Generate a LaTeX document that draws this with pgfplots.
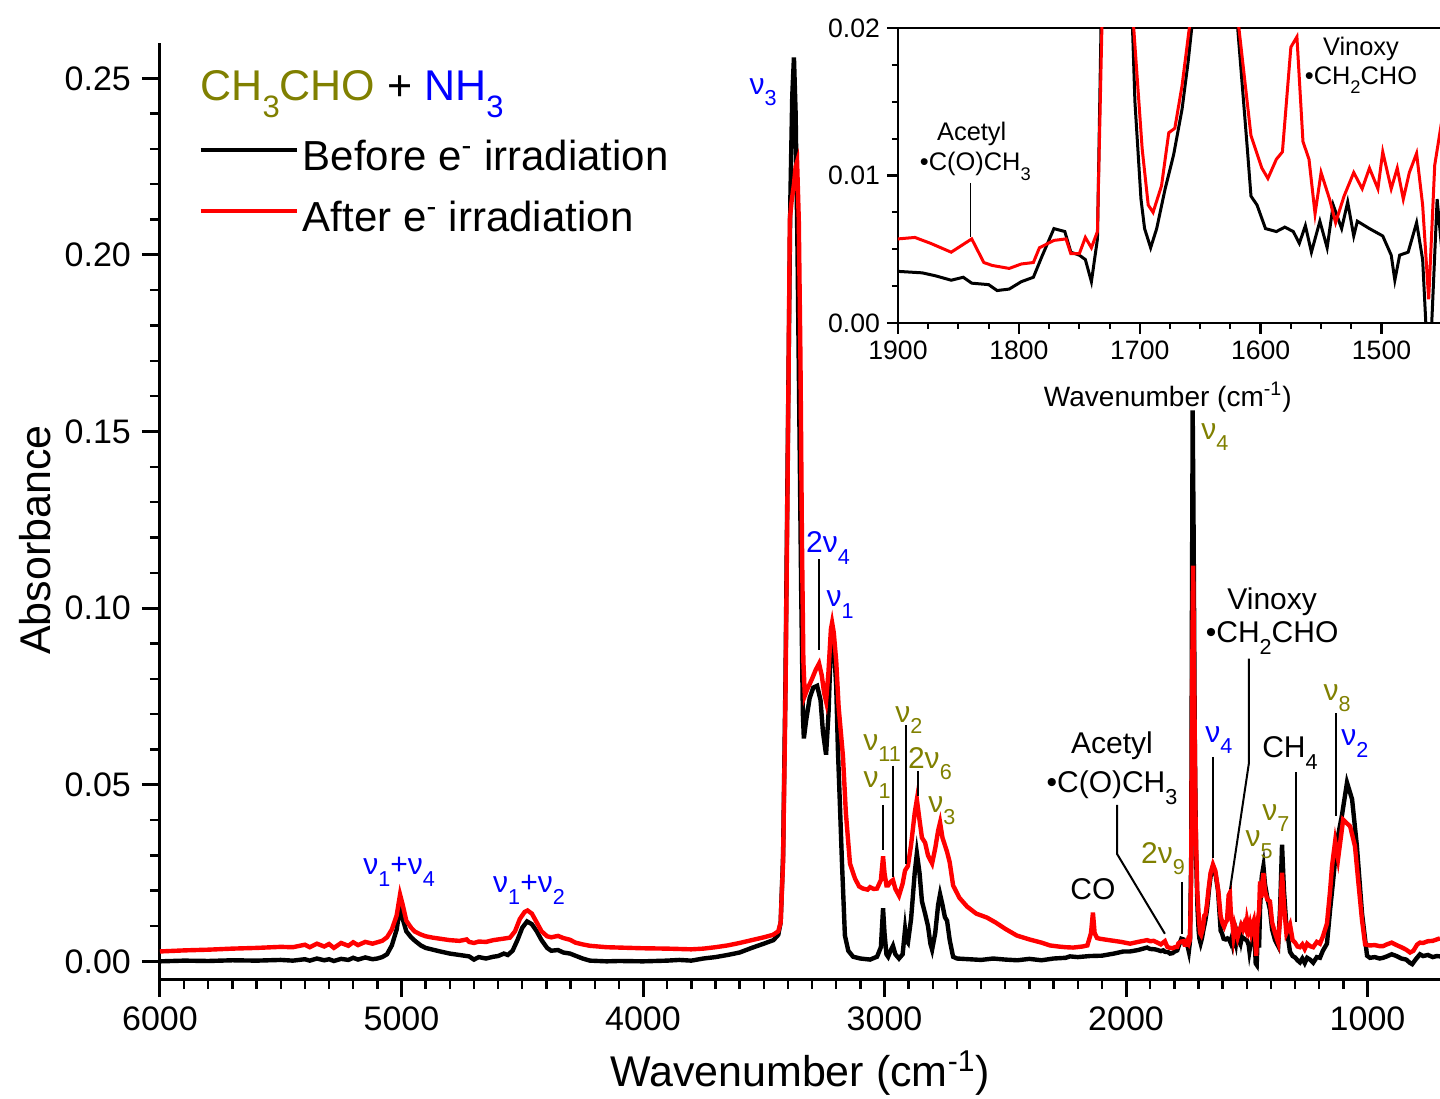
\documentclass[border=0pt]{standalone}
\usepackage{pgfplots}
\usepackage{pgfplotstable}
\usepackage{graphicx}
\pgfplotsset{compat=1.18}
\usepackage{fontspec}
\setmainfont{Liberation Sans}
\definecolor{myolive}{RGB}{128,128,0}
\definecolor{myblue}{RGB}{0,0,255}
\definecolor{myred}{RGB}{255,0,0}
\newcommand{\fs}[1]{\fontsize{#1}{#1}\selectfont}
\newcommand{\sub}[1]{\raisebox{-0.38em}{\scalebox{0.72}{#1}}}

\pgfplotstableread{
x y
6000 0.0000
5900 0.0002
5800 0.0001
5700 0.0003
5600 0.0002
5500 0.0004
5450 0.0002
5400 0.0006
5380 0.0002
5350 0.0008
5320 0.0003
5300 0.0006
5280 0.0001
5250 0.0007
5220 0.0004
5200 0.0010
5180 0.0005
5150 0.0011
5120 0.0006
5100 0.0008
5080 0.0012
5060 0.0020
5040 0.0045
5020 0.0090
5006 0.0152
4995 0.0120
4980 0.0085
4960 0.0068
4944 0.0058
4920 0.0045
4900 0.0038
4870 0.0033
4840 0.0028
4800 0.0022
4760 0.0018
4720 0.0014
4700 0.0005
4680 0.0012
4650 0.0008
4620 0.0013
4600 0.0015
4576 0.0022
4560 0.0018
4540 0.0030
4520 0.0060
4500 0.0095
4480 0.0113
4460 0.0105
4440 0.0085
4420 0.0060
4397 0.0038
4380 0.0030
4352 0.0032
4330 0.0025
4302 0.0022
4280 0.0016
4250 0.0008
4220 0.0002
4150 0.0000
4100 0.0001
4000 0.0000
3900 0.0002
3850 0.0004
3800 0.0002
3750 0.0008
3700 0.0012
3650 0.0018
3600 0.0025
3550 0.0038
3500 0.0050
3460 0.0060
3440 0.0075
3430 0.0110
3420 0.0300
3410 0.0800
3400 0.1500
3390 0.2150
3382 0.2450
3375 0.2559
3368 0.2400
3360 0.2000
3352 0.1500
3345 0.1050
3338 0.0700
3334 0.0631
3325 0.0680
3310 0.0745
3295 0.0775
3279 0.0780
3265 0.0740
3255 0.0650
3242 0.0585
3232 0.0700
3222 0.0900
3217 0.0930
3210 0.0900
3200 0.0780
3193 0.0600
3185 0.0450
3176 0.0277
3164 0.0073
3150 0.0030
3130 0.0013
3100 0.0008
3060 0.0005
3031 0.0013
3015 0.0040
3006 0.0150
3000 0.0080
2992 0.0020
2985 0.0013
2975 0.0030
2965 0.0044
2955 0.0020
2940 0.0008
2925 0.0020
2915 0.0090
2910 0.0060
2903 0.0053
2890 0.0120
2875 0.0250
2866 0.0306
2855 0.0250
2845 0.0170
2832 0.0135
2820 0.0100
2810 0.0050
2803 0.0033
2790 0.0080
2778 0.0160
2770 0.0190
2760 0.0160
2750 0.0125
2741 0.0115
2730 0.0060
2716 0.0013
2700 0.0008
2650 0.0006
2600 0.0004
2550 0.0008
2500 0.0005
2450 0.0003
2400 0.0007
2350 0.0003
2300 0.0008
2250 0.0010
2232 0.0014
2200 0.0012
2150 0.0015
2100 0.0016
2050 0.0022
2010 0.0028
1983 0.0028
1950 0.0032
1913 0.0039
1900 0.0035
1880 0.0034
1869 0.0032
1856 0.0029
1846 0.0031
1839 0.0027
1825 0.0026
1818 0.0022
1808 0.0023
1798 0.0028
1788 0.0031
1781 0.0045
1771 0.0064
1762 0.0062
1757 0.0048
1750 0.0046
1745 0.0043
1740 0.0028
1735 0.0057
1730 0.0300
1727 0.1000
1724 0.1560
1720 0.1200
1715 0.0600
1710 0.0300
1704 0.0150
1699 0.0084
1696 0.0064
1691 0.0051
1686 0.0064
1679 0.0091
1672 0.0114
1665 0.0145
1660 0.0177
1657 0.0200
1650 0.0240
1640 0.0268
1630 0.0250
1619 0.0200
1611 0.0118
1608 0.0086
1603 0.0080
1596 0.0064
1587 0.0062
1580 0.0065
1573 0.0062
1568 0.0054
1563 0.0066
1558 0.0048
1551 0.0069
1545 0.0051
1540 0.0080
1533 0.0064
1528 0.0082
1523 0.0059
1520 0.0069
1510 0.0064
1499 0.0059
1492 0.0046
1489 0.0029
1485 0.0046
1478 0.0048
1471 0.0068
1466 0.0043
1463 -0.0006
1459 -0.0010
1454 0.0084
1449 0.0039
1445 0.0150
1438 0.0240
1431 0.0269
1425 0.0220
1415 0.0180
1404 0.0146
1395 0.0090
1383 0.0060
1370 0.0043
1362 0.0150
1354 0.0330
1346 0.0200
1336 0.0100
1321 0.0027
1310 0.0015
1300 0.0011
1290 0.0003
1280 -0.0003
1270 0.0008
1260 -0.0005
1250 0.0010
1238 0.0005
1225 -0.0004
1210 0.0012
1197 0.0010
1185 0.0030
1168 0.0050
1155 0.0146
1143 0.0225
1127 0.0338
1106 0.0413
1085 0.0506
1064 0.0459
1044 0.0326
1023 0.0137
1002 0.0016
990 0.0010
970 0.0012
950 0.0008
936 0.0010
920 0.0014
900 0.0020
880 0.0015
860 0.0008
840 0.0005
825 -0.0004
815 -0.0008
800 0.0006
783 0.0020
770 0.0015
750 0.0018
730 0.0012
713 0.0015
700 0.0014
}\blackdata

\pgfplotstableread{
x y
6000 0.0028
5900 0.0031
5800 0.0033
5700 0.0036
5600 0.0038
5500 0.0041
5450 0.0040
5400 0.0047
5380 0.0040
5350 0.0050
5320 0.0042
5300 0.0049
5280 0.0038
5250 0.0052
5220 0.0044
5200 0.0054
5180 0.0046
5150 0.0055
5120 0.0050
5100 0.0054
5080 0.0058
5060 0.0068
5040 0.0090
5020 0.0130
5006 0.0189
4995 0.0160
4980 0.0115
4960 0.0095
4944 0.0084
4920 0.0076
4900 0.0071
4870 0.0067
4840 0.0064
4800 0.0060
4760 0.0058
4730 0.0062
4720 0.0055
4700 0.0052
4680 0.0056
4650 0.0055
4620 0.0060
4600 0.0062
4570 0.0065
4551 0.0067
4530 0.0085
4510 0.0120
4490 0.0140
4478 0.0144
4460 0.0135
4440 0.0110
4420 0.0085
4397 0.0071
4380 0.0068
4352 0.0072
4330 0.0066
4302 0.0061
4280 0.0053
4250 0.0048
4220 0.0044
4150 0.0040
4100 0.0039
4000 0.0037
3900 0.0036
3850 0.0035
3800 0.0034
3750 0.0036
3700 0.0040
3650 0.0045
3600 0.0052
3550 0.0060
3500 0.0068
3462 0.0075
3440 0.0085
3430 0.0110
3420 0.0280
3410 0.0750
3400 0.1450
3392 0.2100
3385 0.2150
3375 0.2200
3368 0.2250
3362 0.2264
3355 0.2100
3348 0.1700
3342 0.1200
3336 0.0850
3330 0.0752
3320 0.0770
3300 0.0800
3285 0.0825
3271 0.0843
3260 0.0810
3250 0.0760
3242 0.0736
3232 0.0820
3222 0.0940
3217 0.0959
3210 0.0930
3200 0.0850
3190 0.0720
3172 0.0580
3160 0.0420
3143 0.0277
3122 0.0234
3105 0.0212
3089 0.0206
3070 0.0203
3060 0.0210
3045 0.0205
3031 0.0206
3015 0.0230
3006 0.0297
3000 0.0250
2992 0.0215
2985 0.0215
2975 0.0225
2965 0.0230
2955 0.0205
2940 0.0186
2925 0.0220
2915 0.0257
2903 0.0270
2890 0.0330
2875 0.0420
2866 0.0458
2855 0.0400
2845 0.0350
2832 0.0336
2820 0.0300
2803 0.0277
2790 0.0320
2778 0.0370
2770 0.0393
2760 0.0350
2741 0.0310
2730 0.0280
2716 0.0215
2690 0.0180
2658 0.0155
2620 0.0135
2576 0.0124
2540 0.0110
2500 0.0092
2452 0.0073
2400 0.0062
2350 0.0053
2315 0.0045
2280 0.0042
2250 0.0040
2219 0.0039
2180 0.0042
2160 0.0045
2145 0.0080
2137 0.0138
2130 0.0080
2120 0.0066
2108 0.0064
2080 0.0061
2050 0.0058
2020 0.0055
1983 0.0050
1950 0.0055
1913 0.0060
1900 0.0057
1886 0.0058
1873 0.0054
1856 0.0048
1839 0.0057
1829 0.0041
1822 0.0039
1808 0.0037
1798 0.0040
1788 0.0041
1783 0.0051
1771 0.0056
1761 0.0057
1757 0.0047
1750 0.0047
1745 0.0058
1740 0.0051
1735 0.0062
1730 0.0250
1726 0.0800
1722 0.1120
1718 0.0800
1712 0.0400
1705 0.0200
1698 0.0118
1693 0.0080
1689 0.0075
1682 0.0093
1676 0.0129
1671 0.0132
1665 0.0161
1659 0.0200
1650 0.0250
1640 0.0274
1630 0.0256
1618 0.0200
1608 0.0127
1599 0.0105
1594 0.0098
1587 0.0111
1582 0.0116
1575 0.0187
1570 0.0194
1565 0.0123
1560 0.0111
1555 0.0074
1550 0.0102
1543 0.0084
1538 0.0068
1531 0.0086
1523 0.0102
1516 0.0091
1510 0.0105
1503 0.0091
1499 0.0116
1492 0.0091
1487 0.0105
1482 0.0084
1477 0.0102
1471 0.0115
1466 0.0080
1461 0.0016
1456 0.0107
1449 0.0143
1445 0.0226
1440 0.0180
1436 0.0220
1431 0.0250
1425 0.0200
1415 0.0175
1404 0.0170
1395 0.0110
1383 0.0080
1370 0.0053
1362 0.0120
1354 0.0251
1346 0.0160
1336 0.0080
1321 0.0104
1310 0.0060
1300 0.0053
1290 0.0042
1280 0.0040
1270 0.0048
1260 0.0035
1250 0.0050
1238 0.0043
1225 0.0040
1210 0.0055
1197 0.0050
1185 0.0070
1168 0.0107
1155 0.0200
1147 0.0270
1134 0.0340
1122 0.0290
1101 0.0401
1072 0.0382
1052 0.0326
1039 0.0231
1023 0.0118
1010 0.0048
990 0.0045
970 0.0046
950 0.0043
936 0.0043
920 0.0048
900 0.0053
880 0.0046
860 0.0040
840 0.0033
824 0.0025
810 0.0030
795 0.0047
783 0.0053
770 0.0052
750 0.0057
730 0.0058
713 0.0062
700 0.0065
}\reddata

\tikzset{ann/.style={font=\fs{15}, inner sep=0pt}, lbl/.style={line width=1pt}}

\begin{document}
\begin{tikzpicture}
\begin{axis}[
  at={(80pt,59.5pt)}, anchor=south west,
  scale only axis, width=640pt, height=468pt,
  x dir=reverse, xmin=700, xmax=6000, ymin=-0.005, ymax=0.26,
  axis x line*=bottom, axis y line*=left,
  axis line style={-, line width=1.5pt},
  xtick={1000,2000,3000,4000,5000,6000}, minor x tick num=9,
  ytick={0,0.05,0.1,0.15,0.2,0.25}, minor y tick num=4,
  tick align=outside, major tick length=9pt, minor tick length=5pt,
  every major tick/.append style={line width=1.5pt, black},
  every minor tick/.append style={line width=1.2pt, black},
  /pgf/number format/assume math mode=true,
  /pgf/number format/1000 sep={},
  tick label style={font=\fs{17}},
  xticklabel style={yshift=-1.5pt},
  yticklabel style={xshift=-2pt, /pgf/number format/fixed, /pgf/number format/fixed zerofill, /pgf/number format/precision=2},
  scaled y ticks=false,
  xlabel={Wavenumber (cm\textsuperscript{-1})},
  ylabel={Absorbance},
  label style={font=\fs{21.5}},
  xlabel style={at={(axis description cs:0.5,-0.1004)}, anchor=center},
  ylabel style={at={(axis description cs:-0.0977,0.469)}, anchor=center},
  legend style={at={(axis description cs:0.0297,0.8456)}, anchor=west, draw=none, fill=none,
    font=\fs{21}, inner sep=0pt, row sep=10pt,
    /tikz/every even column/.append style={column sep=7.5pt}},
  legend cell align=left,
  legend image code/.code={\draw[#1, line width=2.2pt] (-1pt,0.35em) -- (47pt,0.35em);},
]
\addplot[black, line width=2.2pt] table {\blackdata};
\addlegendentry{Before e\textsuperscript{-} irradiation}
\addplot[myred, line width=2.2pt] table {\reddata};
\addlegendentry{After e\textsuperscript{-} irradiation}

\node[anchor=base west, inner sep=0pt, font=\fs{21.5}] at (axis cs:5834,0.2436)
  {\textcolor{myolive}{CH\sub{3}CHO} + \textcolor{myblue}{NH\sub{3}}};

\node[ann, myblue] at (axis cs:3503,0.2461) {ν\sub{3}};
\node[ann, myblue] at (axis cs:3234,0.117) {2ν\sub{4}};
\draw[lbl] (axis cs:3271,0.1139) -- (axis cs:3271,0.0881);
\node[ann, myblue] at (axis cs:3184,0.101) {ν\sub{1}};
\node[ann, myolive] at (axis cs:3031,0.0499) {ν\sub{1}};
\draw[lbl] (axis cs:3006,0.0443) -- (axis cs:3006,0.0315);
\node[ann, myolive] at (axis cs:3010,0.0604) {ν\sub{11}};
\draw[lbl] (axis cs:2965,0.0554) -- (axis cs:2965,0.0239);
\node[ann, myolive] at (axis cs:2899,0.0683) {ν\sub{2}};
\draw[lbl] (axis cs:2911,0.0669) -- (axis cs:2911,0.0276);
\node[ann, myolive] at (axis cs:2812,0.0559) {2ν\sub{6}};
\draw[lbl] (axis cs:2861,0.0539) -- (axis cs:2861,0.0468);
\node[ann, myolive] at (axis cs:2762,0.0426) {ν\sub{3}};
\node[ann] at (axis cs:2058,0.0609) {Acetyl};
\node[ann] at (axis cs:2058,0.0492) {•C(O)CH\sub{3}};
\draw[lbl] (axis cs:2037,0.0443) -- (axis cs:2037,0.0304) -- (axis cs:1839,0.0078);
\node[ann] at (axis cs:2137,0.0205) {CO};
\node[ann, myolive] at (axis cs:1847,0.029) {2ν\sub{9}};
\draw[lbl] (axis cs:1768,0.0225) -- (axis cs:1768,0.0078);
\node[ann, myolive] at (axis cs:1632,0.1484) {ν\sub{4}};
\node[ann] at (axis cs:1395,0.1017) {Vinoxy};
\node[ann] at (axis cs:1395,0.0915) {•CH\sub{2}CHO};
\draw[lbl] (axis cs:1491,0.0857) -- (axis cs:1491,0.0562) -- (axis cs:1569,0.0205);
\node[ann, myblue] at (axis cs:1615,0.0627) {ν\sub{4}};
\draw[lbl] (axis cs:1640,0.0579) -- (axis cs:1640,0.0293);
\node[ann, myolive] at (axis cs:1449,0.033) {ν\sub{5}};
\node[ann, myolive] at (axis cs:1379,0.0406) {ν\sub{7}};
\node[ann] at (axis cs:1321,0.059) {CH\sub{4}};
\draw[lbl] (axis cs:1296,0.0536) -- (axis cs:1296,0.0111);
\node[ann, myolive] at (axis cs:1126,0.0745) {ν\sub{8}};
\draw[lbl] (axis cs:1130,0.0703) -- (axis cs:1130,0.0411);
\node[ann, myblue] at (axis cs:1052,0.0616) {ν\sub{2}};
\node[ann, myblue] at (axis cs:5010,0.0253) {ν\sub{1}+ν\sub{4}};
\node[ann, myblue] at (axis cs:4472,0.0202) {ν\sub{1}+ν\sub{2}};
\end{axis}

\begin{axis}[
  at={(449pt,387.5pt)}, anchor=south west,
  scale only axis, width=272pt, height=147.5pt,
  x dir=reverse, xmin=1450, xmax=1900, ymin=0, ymax=0.02,
  axis line style={line width=1.3pt},
  xtick={1500,1600,1700,1800,1900}, minor x tick num=3,
  ytick={0,0.01,0.02}, minor y tick num=3,
  xtick pos=left, ytick pos=left,
  tick align=outside, major tick length=5.5pt, minor tick length=3pt,
  every major tick/.append style={line width=1.2pt, black},
  every minor tick/.append style={line width=1pt, black},
  /pgf/number format/assume math mode=true,
  /pgf/number format/1000 sep={},
  tick label style={font=\fs{13.3}},
  yticklabel style={/pgf/number format/fixed, /pgf/number format/fixed zerofill, /pgf/number format/precision=2},
  scaled y ticks=false,
  xlabel={Wavenumber (cm\textsuperscript{-1})},
  label style={font=\fs{14}},
  xlabel style={at={(axis description cs:0.496,-0.251)}, anchor=center},
]
\addplot[black, line width=1.5pt] table {\blackdata};
\addplot[myred, line width=1.5pt] table {\reddata};
\node[ann, font=\fs{12.7}] at (axis cs:1839,0.0128) {Acetyl};
\node[ann, font=\fs{12.7}] at (axis cs:1836,0.0106) {•C(O)CH\sub{3}};
\draw[line width=0.9pt] (axis cs:1840,0.0095) -- (axis cs:1840,0.0058);
\node[ann, font=\fs{12.7}] at (axis cs:1517,0.01858) {Vinoxy};
\node[ann, font=\fs{12.7}] at (axis cs:1517,0.01647) {•CH\sub{2}CHO};
\end{axis}
\pgfresetboundingbox
\path[use as bounding box] (0pt,0pt) rectangle (720pt,549pt);
\end{tikzpicture}
\end{document}
